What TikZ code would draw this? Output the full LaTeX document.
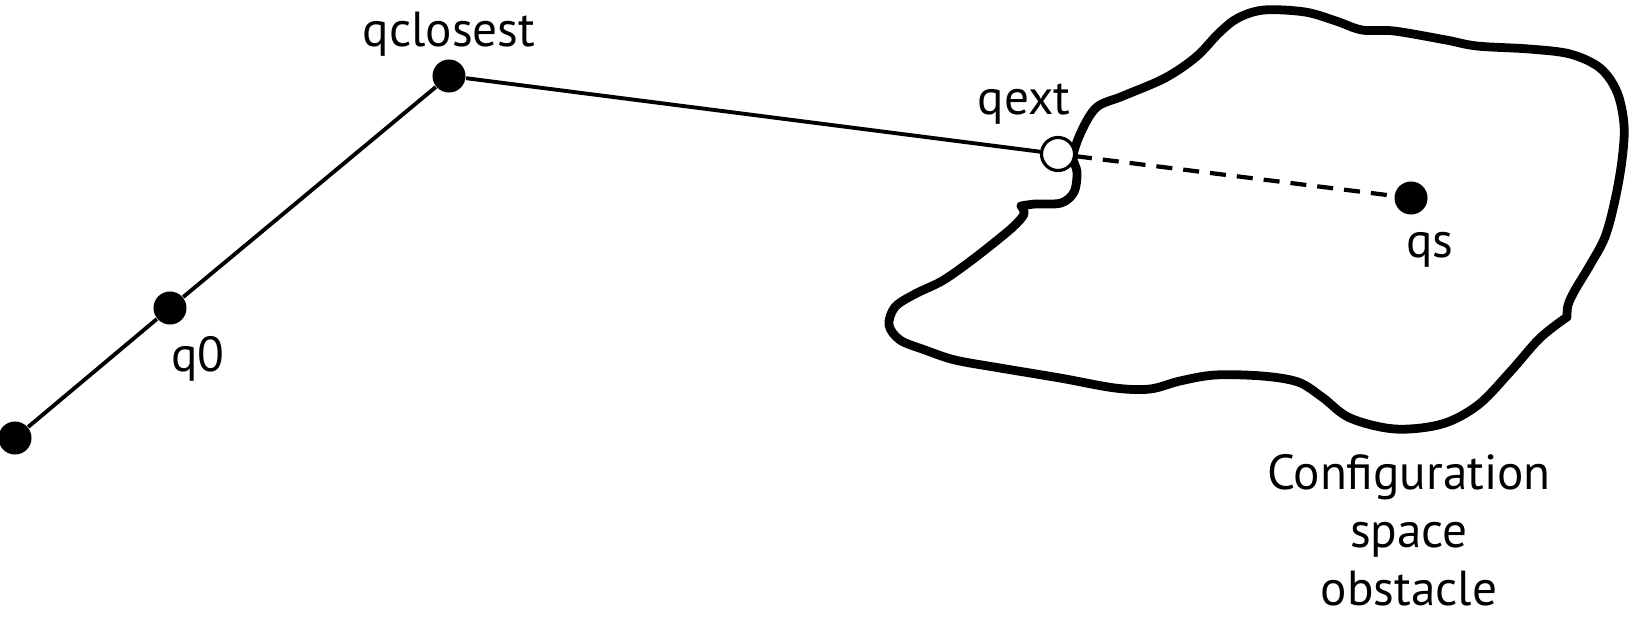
\documentclass[tikz,border=0pt]{standalone}
\usepackage{fontspec}
\setmainfont{PT Sans}
\usetikzlibrary{positioning}
\tikzset{
  conf/.style={circle, fill=black, inner sep=0pt, minimum size=0.33cm},
  extconf/.style={circle, draw=black, fill=white, line width=0.9pt, inner sep=0pt, minimum size=0.33cm},
  lbl/.style={font=\fontsize{14}{16.5}\selectfont, inner sep=0pt},
  edge/.style={line width=1.1pt},
  obstacle/.style={line width=2.5pt, line join=round}
}
\begin{document}
\begin{tikzpicture}[x=0.01cm, y=-0.01cm]
\useasboundingbox (0,0) rectangle (1631,618);
% obstacle outline
\draw[obstacle] plot[smooth, tension=0.55] coordinates {
  (1021,206) (1035,204) (1061,203) (1074,192) (1077,172) (1073,156)
  (1082,130) (1097,107) (1123,96) (1165,78) (1196,57) (1219,33)
  (1238,18) (1264,10) (1305,12) (1336,21) (1362,30) (1394,31)
  (1446,40) (1477,46) (1529,49) (1570,54) (1600,68) (1617,92)
  (1624,125) (1622,160) (1615,200) (1605,237) (1590,265) (1575,290)
  (1568,305) (1567,317)}
  -- plot[smooth, tension=0.55] coordinates {
  (1567,317) (1540,338) (1510,372) (1478,405) (1442,424) (1395,429)
  (1350,418) (1322,397) (1298,382) (1262,376) (1215,375) (1180,381)
  (1150,389) (1115,388) (1060,378) (1000,368) (955,360) (925,350)
  (900,340) (889,325) (895,307) (915,294) (942,281) (968,263)
  (995,242) (1014,226) (1024,214) (1021,206)} -- cycle;

% configurations
\node[conf] (qinit) at (15,438) {};
\node[conf] (q0) at (170,308) {};
\node[conf] (qclosest) at (449,76) {};
\node[extconf] (qext) at (1058,154) {};
\node[conf] (qs) at (1411,198) {};

\draw[edge] (qinit) -- (q0);
\draw[edge] (q0) -- (qclosest);
\draw[edge] (qclosest) -- (qext);
\draw[edge, line width=1.2pt, dash pattern=on 0.16cm off 0.11cm] (qext) -- (qs);

% labels
\node[lbl] (q0lbl) at (198,359) {q0};
\node[lbl] (qclosestlbl) at (449,34) {qclosest};
\node[lbl] (qextlbl) at (1024,104) {qext};
\node[lbl] (qslbl) at (1430,250) {qs};
\node[lbl, align=center] (obslbl) at (1409,530) {Configuration\\space\\obstacle};
\end{tikzpicture}
\end{document}
